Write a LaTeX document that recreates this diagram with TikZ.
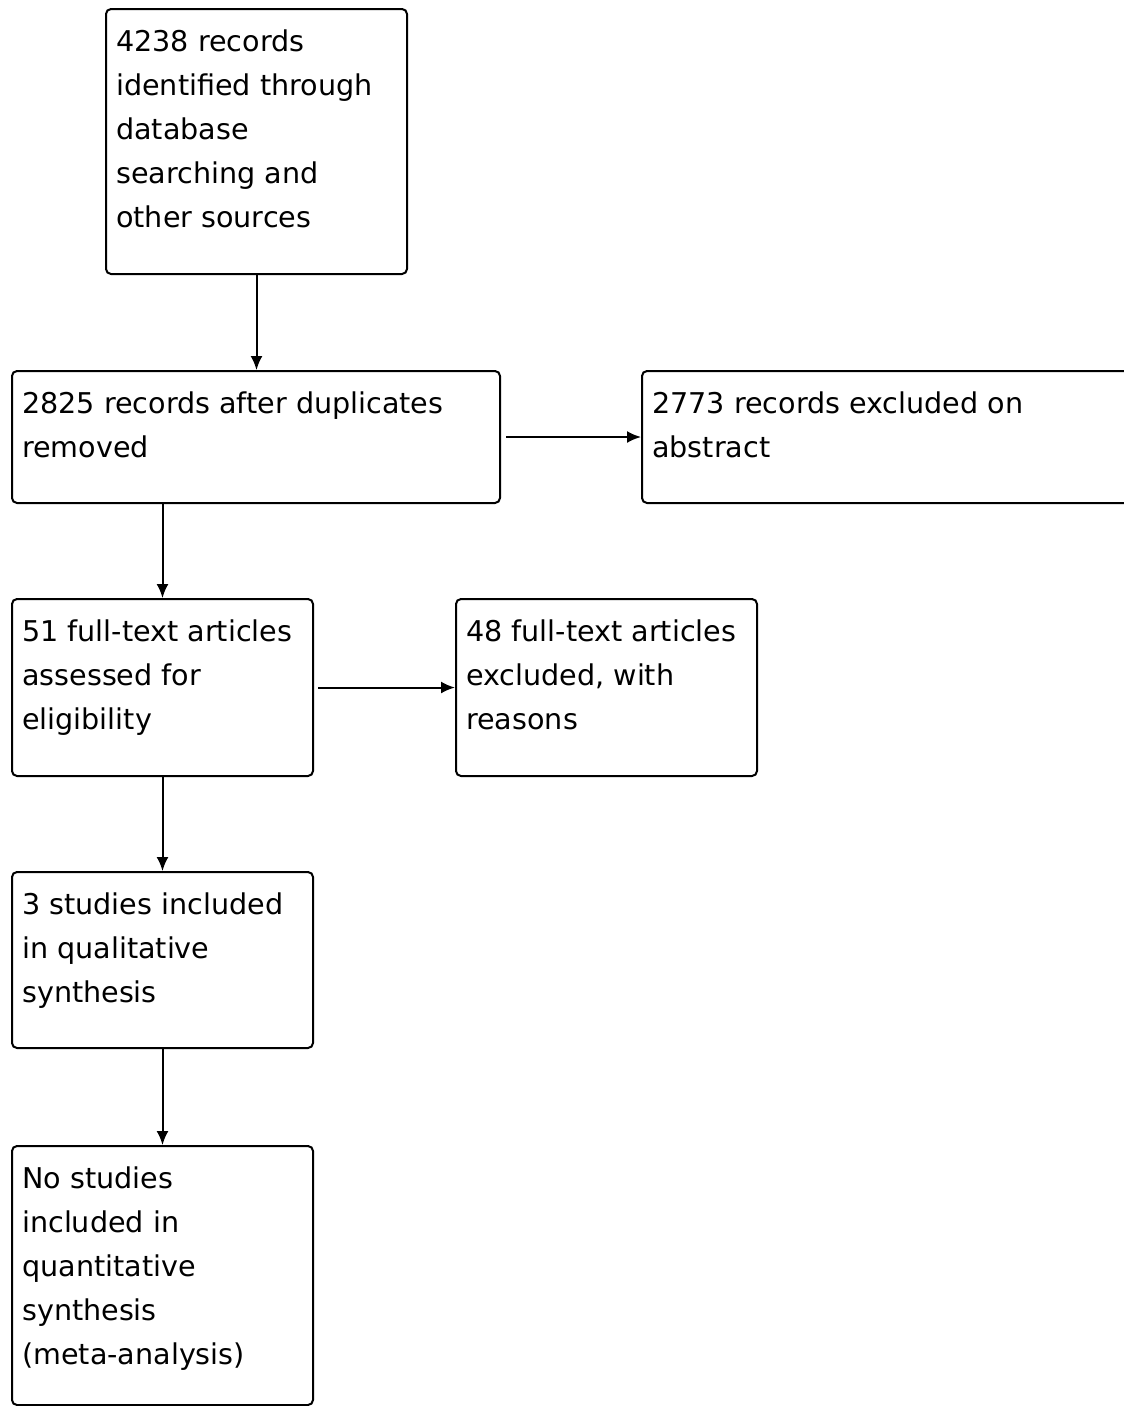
\documentclass[tikz,border=0pt]{standalone}
\usepackage{fontspec}
\setmainfont{DejaVu Sans}
\usetikzlibrary{arrows.meta,positioning}
\begin{document}
\begin{tikzpicture}[x=1pt,y=-1pt]
\useasboundingbox (0,0) rectangle (1124,1406);
\clip (0,0) rectangle (1124,1406);
\begin{scope}[every node/.style={draw=black, line width=2pt, rounded corners=5pt, anchor=north west, inner sep=0pt}]
	\node[minimum width=301pt, minimum height=265pt] (records) at (105,8) {};
	\node[minimum width=488pt, minimum height=132pt] (dedup) at (11,370) {};
	\node[minimum width=500pt, minimum height=132pt] (abstract) at (641,370) {};
	\node[minimum width=301pt, minimum height=177pt] (fulltext) at (11,598) {};
	\node[minimum width=301pt, minimum height=177pt] (excluded) at (455,598) {};
	\node[minimum width=301pt, minimum height=176pt] (qual) at (11,871) {};
	\node[minimum width=301pt, minimum height=259pt] (quant) at (11,1145) {};
\end{scope}
\begin{scope}[every node/.style={inner sep=0pt, align=left, font=\fontsize{28.6}{44}\selectfont}]
	\node[below right=22pt and 11pt of records.north west] (recordstext) {4238 records\\identified through\\database\\searching and\\other sources};
	\node[below right=22pt and 11pt of dedup.north west] (deduptext) {2825 records after duplicates\\removed};
	\node[below right=22pt and 11pt of abstract.north west] (abstracttext) {2773 records excluded on\\abstract};
	\node[below right=22pt and 11pt of fulltext.north west] (fulltexttext) {51 full-text articles\\assessed for\\eligibility};
	\node[below right=22pt and 11pt of excluded.north west] (excludedtext) {48 full-text articles\\excluded, with\\reasons};
	\node[below right=22pt and 11pt of qual.north west] (qualtext) {3 studies included\\in qualitative\\synthesis};
	\node[below right=22pt and 11pt of quant.north west] (quanttext) {No studies\\included in\\quantitative\\synthesis\\(meta-analysis)};
\end{scope}
\begin{scope}[every edge/.style={draw=black, line width=2pt, -{Latex[length=14pt,width=12pt]}}]
	\path (records.south) edge (records.south |- dedup.north);
	\path ([xshift=5pt]dedup.east) edge (abstract.west);
	\path (fulltext.north |- dedup.south) edge (fulltext.north);
	\path ([xshift=4pt]fulltext.east) edge (excluded.west);
	\path (fulltext.south) edge (qual.north);
	\path (qual.south) edge (quant.north);
\end{scope}
\end{tikzpicture}
\end{document}
